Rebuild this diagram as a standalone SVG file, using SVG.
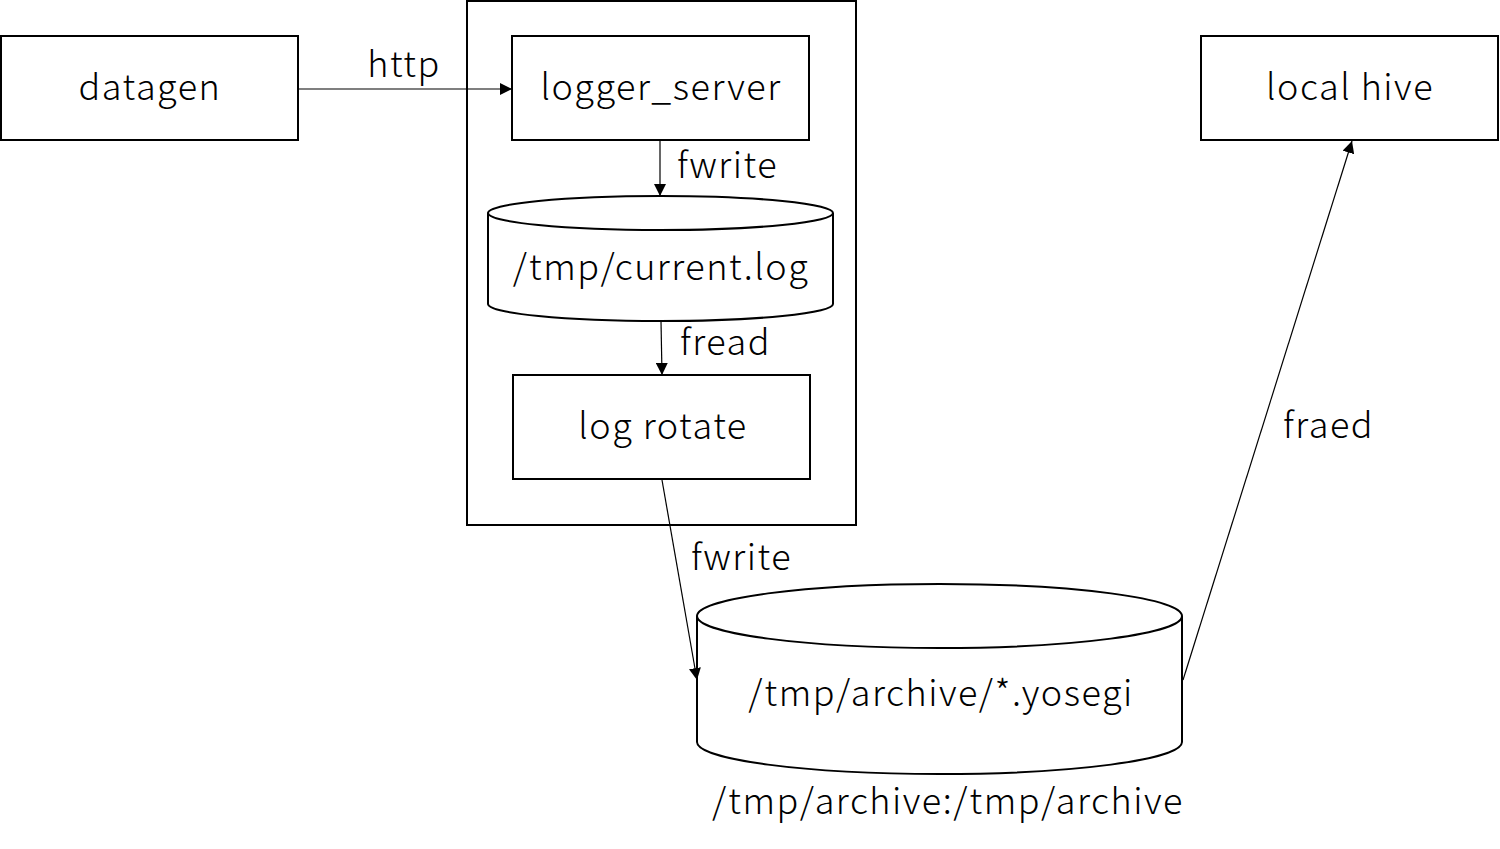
<svg xmlns="http://www.w3.org/2000/svg" width="1500" height="849" viewBox="0 0 1500 849">
<style>
.box{fill:#fff;stroke:#000;stroke-width:2}
.t{font-family:"Noto Sans CJK JP","Noto Sans",sans-serif;font-size:36px;font-weight:300;letter-spacing:1.5px;fill:#000}
.c{text-anchor:middle}
.ln{stroke:#000;stroke-width:1.2;fill:none}
</style>
<defs>
<marker id="ah" viewBox="0 0 10 10" refX="10" refY="5" markerWidth="12" markerHeight="12" markerUnits="userSpaceOnUse" orient="auto">
<path d="M0,0 L10,5 L0,10 Z" fill="#000"/>
</marker>
</defs>
<rect width="1500" height="849" fill="#fff"/>
<g id="container"><rect class="box" x="467" y="1" width="389" height="524"/></g>
<g id="datagen"><rect class="box" x="1" y="36" width="297" height="104"/><text class="t c" x="150" y="100">datagen</text></g>
<g id="logger_server"><rect class="box" x="512" y="36" width="297" height="104"/><text class="t c" x="661" y="100">logger_server</text></g>
<g id="local_hive"><rect class="box" x="1201" y="36" width="297" height="104"/><text class="t c" x="1350" y="100">local hive</text></g>
<g id="log_rotate"><rect class="box" x="513" y="375" width="297" height="104"/><text class="t c" x="663" y="439">log rotate</text></g>
<g id="current_log">
<path class="box" d="M488,213 L488,304 A172.5,17 0 0 0 833,304 L833,213"/>
<ellipse class="box" cx="660.5" cy="213" rx="172.5" ry="17"/>
<text class="t c" x="661" y="280">/tmp/current.log</text>
</g>
<g id="archive">
<path class="box" d="M697,616 L697,742 A242.5,32 0 0 0 1182,742 L1182,616"/>
<ellipse class="box" cx="939.5" cy="616" rx="242.5" ry="32"/>
<text class="t c" x="941" y="706">/tmp/archive/*.yosegi</text>
<text class="t c" x="948" y="814">/tmp/archive:/tmp/archive</text>
</g>
<g id="connectors">
<line class="ln" x1="298" y1="89" x2="512" y2="89" marker-end="url(#ah)"/>
<text class="t c" x="404" y="77">http</text>
<line class="ln" x1="660" y1="140" x2="660" y2="196" marker-end="url(#ah)"/>
<text class="t" x="677" y="178">fwrite</text>
<line class="ln" x1="661" y1="321" x2="662" y2="375" marker-end="url(#ah)"/>
<text class="t" x="680" y="355">fread</text>
<line class="ln" x1="662" y1="480" x2="697" y2="680" marker-end="url(#ah)"/>
<text class="t" x="691" y="570">fwrite</text>
<line class="ln" x1="1183" y1="680" x2="1352" y2="141" marker-end="url(#ah)"/>
<text class="t" x="1283" y="438">fraed</text>
</g>
</svg>
